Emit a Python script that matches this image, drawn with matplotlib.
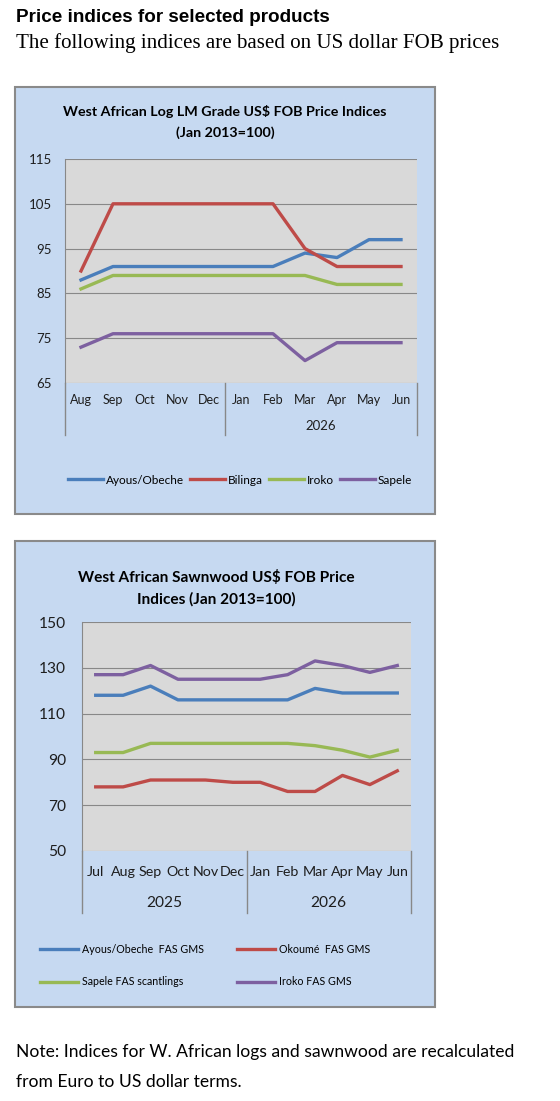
import numpy as np
import matplotlib
matplotlib.use('Agg')
import matplotlib.pyplot as plt
import matplotlib.transforms as mtransforms
from matplotlib.patches import Rectangle

#chart 1: logs
log_months = ['Aug', 'Sep', 'Oct', 'Nov', 'Dec', 'Jan', 'Feb', 'Mar', 'Apr', 'May', 'Jun']
log_years = ['', '2026']
log_ayous = [88, 91, 91, 91, 91, 91, 91, 94, 93, 97, 97]
log_bilinga = [90, 105, 105, 105, 105, 105, 105, 95, 91, 91, 91]
log_iroko = [86, 89, 89, 89, 89, 89, 89, 89, 87, 87, 87]
log_sapele = [73, 76, 76, 76, 76, 76, 76, 70, 74, 74, 74]
log_names = ['Ayous/Obeche', 'Bilinga', 'Iroko', 'Sapele']
log_yticks = [65, 75, 85, 95, 105, 115]

#chart 2: sawnwood
saw_months = ['Jul', 'Aug', 'Sep', 'Oct', 'Nov', 'Dec', 'Jan', 'Feb', 'Mar', 'Apr', 'May', 'Jun']
saw_years = ['2025', '2026']
saw_ayous = [118, 118, 122, 116, 116, 116, 116, 116, 121, 119, 119, 119]
saw_okoume = [78, 78, 81, 81, 81, 80, 80, 76, 76, 83, 79, 85]
saw_sapele = [93, 93, 97, 97, 97, 97, 97, 97, 96, 94, 91, 94]
saw_iroko = [127, 127, 131, 125, 125, 125, 125, 127, 133, 131, 128, 131]
saw_names = ['Ayous/Obeche  FAS GMS', 'Okoumé  FAS GMS', 'Sapele FAS scantlings', 'Iroko FAS GMS']
saw_yticks = [50, 70, 90, 110, 130, 150]

BLUE = '#4A7EBB'
RED = '#BE4B48'
GREEN = '#98B954'
PURPLE = '#7D60A0'
BOX = '#C6D9F1'
PLOT = '#D9D9D9'
GRID = '#888888'
INK = '#1E1E1E'

W, H = 560, 1101
plt.rcParams['font.family'] = ['Lato', 'DejaVu Sans']
fig = plt.figure(figsize=(W/100, H/100), dpi=100)

def rect(x0, y0, x1, y1):
    #pixel box (top-left origin) -> figure fraction
    return [x0/W, 1-y1/H, (x1-x0)/W, (y1-y0)/H]

def box(x0, y0, x1, y1):
    r = Rectangle((x0/W, 1-y1/H), (x1-x0)/W, (y1-y0)/H, transform=fig.transFigure,
                  facecolor=BOX, edgecolor='#8A8A8A', lw=1.5, zorder=-5)
    fig.patches.append(r)

def panel(ax, months, years, split, yticks, fs, mfs, ypad, mon_y, yr_y, sep_y):
    n = len(months)
    ax.set_facecolor(PLOT)
    ax.set_xlim(-0.5, n-0.5)
    ax.set_ylim(yticks[0], yticks[-1])
    ax.set_yticks(yticks)
    ax.set_yticklabels([str(t) for t in yticks], fontsize=fs, color=INK)
    ax.tick_params(axis='y', length=0, pad=ypad)
    ax.set_xticks([])
    for s in ['top', 'right', 'bottom']:
        ax.spines[s].set_visible(False)
    ax.spines['left'].set_color(GRID)
    ax.spines['left'].set_linewidth(0.8)
    for t in yticks:
        ax.axhline(t, color=GRID, lw=0.8, zorder=1)
    tr = mtransforms.blended_transform_factory(ax.transData, ax.transAxes)
    for i, m in enumerate(months):
        ax.text(i, mon_y, m, transform=tr, ha='center', va='center', fontsize=mfs, color=INK)
    for xs in [-0.5, split-0.5, n-0.5]:
        ax.plot([xs, xs], [0, sep_y], transform=tr, color=GRID, lw=1.0, clip_on=False)
    centers = [(split-1)/2, (split+n-1)/2]
    for c, yr in zip(centers, years):
        if yr:
            ax.text(c, yr_y, yr, transform=tr, ha='center', va='center', fontsize=fs, color=INK)

#header
fig.text(16/W, 1-18/H, 'Price indices for selected products', family='Liberation Sans',
         weight='bold', fontsize=13.6, va='center', ha='left')
fig.text(16/W, 1-43/H, 'The following indices are based on US dollar FOB prices', family='Liberation Serif',
         fontsize=15.1, va='center', ha='left')

#chart 1
box(15, 87, 435, 514)
fig.text(225/W, 1-112/H, 'West African Log LM Grade US$ FOB Price Indices', weight='bold',
         fontsize=10.3, ha='center', va='center')
fig.text(225/W, 1-133/H, '(Jan 2013=100)', weight='bold', fontsize=10.3, ha='center', va='center')
ax1 = fig.add_axes(rect(65, 159, 417, 383))
x1 = np.arange(len(log_months))
h1 = []
for vals, c, nm in zip([log_ayous, log_bilinga, log_iroko, log_sapele], [BLUE, RED, GREEN, PURPLE], log_names):
    h1 += ax1.plot(x1, vals, color=c, lw=2.4, label=nm, zorder=3, solid_joinstyle='round')
panel(ax1, log_months, log_years, 5, log_yticks, 9.5, 9, 9.5, -0.076, -0.192, -0.232)
fig.legend(handles=h1, loc='center', bbox_to_anchor=(240/W, 1-480/H), ncol=4, frameon=False,
           fontsize=8.45, handlelength=3.0, handletextpad=0.25, columnspacing=0.5, borderpad=0)

#chart 2
box(15, 541, 435, 1007)
fig.text(216/W, 1-577/H, 'West African Sawnwood US$ FOB Price', weight='bold',
         fontsize=11.05, ha='center', va='center')
fig.text(216/W, 1-599/H, 'Indices (Jan 2013=100)', weight='bold', fontsize=11.05, ha='center', va='center')
ax2 = fig.add_axes(rect(82, 622, 411, 851))
x2 = np.arange(len(saw_months))
h2 = []
for vals, c, nm in zip([saw_ayous, saw_okoume, saw_sapele, saw_iroko], [BLUE, RED, GREEN, PURPLE], saw_names):
    h2 += ax2.plot(x2, vals, color=c, lw=2.4, label=nm, zorder=3, solid_joinstyle='round')
panel(ax2, saw_months, saw_years, 6, saw_yticks, 11.2, 10.3, 11.5, -0.092, -0.227, -0.271)
fig.legend(handles=[h2[0], h2[2], h2[1], h2[3]], loc='upper left', bbox_to_anchor=(40/W, 1-944/H),
           ncol=2, frameon=False, fontsize=7.7, handlelength=3.55, handletextpad=0.37,
           columnspacing=3.1, labelspacing=2.0, borderpad=0, borderaxespad=0)

#footer
fig.text(16/W, 1-1052/H, 'Note: Indices for W. African logs and sawnwood are recalculated',
         fontsize=12.6, va='center', ha='left')
fig.text(16/W, 1-1082/H, 'from Euro to US dollar terms.', fontsize=12.6, va='center', ha='left')

plt.savefig('out.png', dpi=100, facecolor='white')
